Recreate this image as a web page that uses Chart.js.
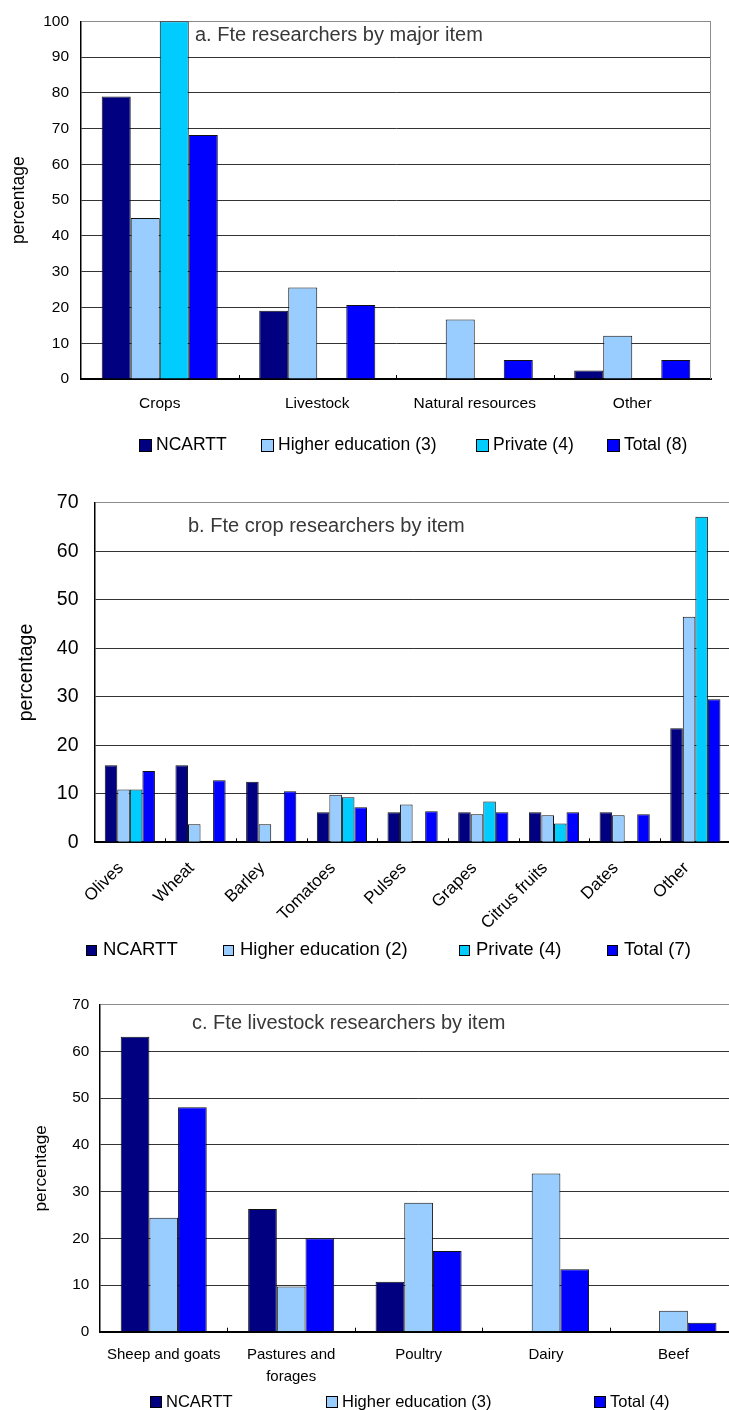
<!DOCTYPE html>
<html>
<head>
<meta charset="utf-8">
<script src="https://cdn.jsdelivr.net/npm/chart.js@4.4.0/dist/chart.umd.min.js"></script>
<style>
  html, body { margin: 0; padding: 0; background: #fff; width: 729px; height: 1410px; overflow: hidden; }
  .panel { position: absolute; left: 0; }
  canvas { display: block; }
</style>
</head>
<body>
<div class="panel" style="top:0px"><canvas id="chartA" width="740" height="475"></canvas></div>
<div class="panel" style="top:475px"><canvas id="chartB" width="740" height="510"></canvas></div>
<div class="panel" style="top:985px"><canvas id="chartC" width="740" height="425"></canvas></div>
<script>
// ---- a. Fte researchers by major item (percentage) ----
const majorItems = ['Crops', 'Livestock', 'Natural resources', 'Other'];
const majorNcartt = [79.0, 19.1, 0, 2.4];
const majorHigherEd = [45.0, 25.6, 16.6, 12.1];
const majorPrivate = [100, 0, 0, 0];
const majorTotal = [68.2, 20.7, 5.3, 5.3];

// ---- b. Fte crop researchers by item (percentage) ----
const cropItems = ['Olives', 'Wheat', 'Barley', 'Tomatoes', 'Pulses', 'Grapes', 'Citrus fruits', 'Dates', 'Other'];
const cropNcartt = [15.9, 15.9, 12.5, 6.2, 6.2, 6.2, 6.2, 6.2, 23.5];
const cropHigherEd = [10.9, 3.7, 3.7, 9.8, 7.8, 5.8, 5.6, 5.6, 46.5];
const cropPrivate = [10.9, 0, 0, 9.3, 0, 8.4, 3.9, 0, 67.1];
const cropTotal = [14.7, 12.8, 10.5, 7.2, 6.4, 6.2, 6.2, 5.8, 29.5];

// ---- c. Fte livestock researchers by item (percentage) ----
const livestockItems = ['Sheep and goats', ['Pastures and', 'forages'], 'Poultry', 'Dairy', 'Beef'];
const livestockNcartt = [63.2, 26.3, 10.7, 0, 0];
const livestockHigherEd = [24.4, 9.7, 27.6, 33.9, 4.5];
const livestockTotal = [48.1, 20.0, 17.3, 13.4, 1.9];

// Series names per panel
const seriesA = ['NCARTT', 'Higher education (3)', 'Private (4)', 'Total (8)'];
const seriesB = ['NCARTT', 'Higher education (2)', 'Private (4)', 'Total (7)'];
const seriesC = ['NCARTT', 'Higher education (3)', 'Total (4)'];

const yTicksLabel = 'percentage';

// Fill colours
const NAVY = '#000080', LIGHT = '#99CCFF', CYAN = '#00CCFF', BLUE = '#0000FF';
const FONT = "'Liberation Sans', Arial, Helvetica, sans-serif";

// Draws the plot frame on the right, inward category tick marks,
// the in-plot panel title and the legend row underneath.
const panelDecor = {
  id: 'panelDecor',
  afterDraw(chart, args, o) {
    const { ctx, chartArea: a } = chart;
    const x = chart.scales.x;
    ctx.save();
    ctx.lineWidth = 1;
    ctx.strokeStyle = o.frameColor;
    ctx.beginPath();
    ctx.moveTo(Math.round(a.right) - 0.5, a.top);
    ctx.lineTo(Math.round(a.right) - 0.5, a.bottom);
    ctx.stroke();

    ctx.strokeStyle = '#000';
    const n = chart.data.labels.length;
    for (let k = 1; k < n; k++) {
      const px = Math.round((x.getPixelForTick(k - 1) + x.getPixelForTick(k)) / 2) + 0.5;
      ctx.beginPath();
      ctx.moveTo(px, a.bottom);
      ctx.lineTo(px, a.bottom - o.tickLen);
      ctx.stroke();
    }

    ctx.textAlign = 'left';
    ctx.textBaseline = 'middle';
    ctx.font = o.titleSize + 'px ' + FONT;
    ctx.fillStyle = o.titleColor;
    ctx.fillText(o.title, o.titleX, o.titleY);

    ctx.font = o.legendSize + 'px ' + FONT;
    chart.data.datasets.forEach((ds, i) => {
      const s = o.box;
      const bx = o.legendX[i];
      const by = Math.round(o.legendY - s / 2);
      ctx.fillStyle = ds.backgroundColor;
      ctx.fillRect(bx, by, s, s);
      ctx.strokeStyle = '#000';
      ctx.strokeRect(bx + 0.5, by + 0.5, s - 1, s - 1);
      ctx.fillStyle = '#000';
      ctx.fillText(ds.label, bx + s + o.boxGap, o.legendY);
    });
    ctx.restore();
  }
};

function makeChart(id, labels, series, values, colors, c) {
  return new Chart(document.getElementById(id), {
    type: 'bar',
    data: {
      labels: labels,
      datasets: series.map((name, i) => ({
        label: name,
        data: values[i],
        backgroundColor: colors[i],
        borderColor: '#111',
        borderWidth: 1,
        categoryPercentage: c.catPct,
        barPercentage: 1
      }))
    },
    options: {
      responsive: false,
      animation: false,
      devicePixelRatio: 1,
      layout: { padding: c.pad },
      plugins: {
        legend: { display: false },
        tooltip: { enabled: false },
        panelDecor: {
          frameColor: '#8c8c8c', tickLen: 4,
          title: c.title, titleX: c.titleX, titleY: c.titleY, titleSize: 20, titleColor: '#383838',
          legendX: c.legendX, legendY: c.legendY, box: c.box, boxGap: c.boxGap, legendSize: c.legendSize
        }
      },
      scales: {
        x: {
          grid: { display: false },
          border: { display: true, color: '#000', width: 2 },
          ticks: {
            autoSkip: false,
            minRotation: c.rot, maxRotation: c.rot,
            padding: c.xTickPad,
            labelOffset: c.labelOffset || 0,
            color: '#000',
            font: { family: FONT, size: c.xTickSize, lineHeight: c.xLineHeight }
          },
          afterFit(s) { s.height = c.xHeight; }
        },
        y: {
          min: 0, max: c.yMax,
          ticks: { stepSize: 10, padding: c.yTickPad, color: '#000', font: { family: FONT, size: c.yTickSize } },
          grid: {
            drawTicks: false,
            lineWidth: 1,
            color: (ctx) => (ctx.tick && ctx.tick.value === c.yMax) ? '#8c8c8c' : '#333'
          },
          border: { display: true, color: '#000', width: 1.5 },
          title: {
            display: true, text: yTicksLabel, color: '#000',
            font: { family: FONT, size: c.yTitleSize },
            padding: { top: c.yTitlePad, bottom: 0 }
          },
          afterFit(s) { s.width = c.yWidth; }
        }
      }
    },
    plugins: [panelDecor]
  });
}

makeChart('chartA', majorItems, seriesA,
  [majorNcartt, majorHigherEd, majorPrivate, majorTotal], [NAVY, LIGHT, CYAN, BLUE], {
    pad: { top: 18, right: 29, left: 0, bottom: 0 },
    yWidth: 81, xHeight: 96, yMax: 100, catPct: 0.737,
    yTickSize: 15.5, yTickPad: 12, yTitleSize: 17.5, yTitlePad: 8.5,
    xTickSize: 15.5, xTickPad: 7.5, xLineHeight: 1.2, rot: 0,
    title: 'a. Fte researchers by major item', titleX: 195, titleY: 35,
    legendX: [139, 261, 476, 607], legendY: 445, box: 13, boxGap: 4, legendSize: 17.5
  });

makeChart('chartB', cropItems, seriesB,
  [cropNcartt, cropHigherEd, cropPrivate, cropTotal], [NAVY, LIGHT, CYAN, BLUE], {
    pad: { top: 27.7, right: 9.3, left: 0, bottom: 0 },
    yWidth: 94.5, xHeight: 142.7, yMax: 70, catPct: 0.71,
    yTickSize: 19.5, yTickPad: 16, yTitleSize: 19.5, yTitlePad: 15.3,
    xTickSize: 17, xTickPad: 8, xLineHeight: 1.2, rot: 45, labelOffset: -9,
    title: 'b. Fte crop researchers by item', titleX: 188, titleY: 51.7,
    legendX: [86, 223, 459, 607], legendY: 475, box: 11, boxGap: 6, legendSize: 18.5
  });

makeChart('chartC', livestockItems, seriesC,
  [livestockNcartt, livestockHigherEd, livestockTotal], [NAVY, LIGHT, BLUE], {
    pad: { top: 18.3, right: 2.8, left: 0, bottom: 0 },
    yWidth: 100, xHeight: 78.3, yMax: 70, catPct: 0.675,
    yTickSize: 15.3, yTickPad: 10.7, yTitleSize: 17.3, yTitlePad: 31,
    xTickSize: 15, xTickPad: 4.3, xLineHeight: 22 / 15, rot: 0,
    title: 'c. Fte livestock researchers by item', titleX: 192, titleY: 38,
    legendX: [150, 326, 594], legendY: 417, box: 12, boxGap: 4, legendSize: 16.5
  });
</script>
</body>
</html>
